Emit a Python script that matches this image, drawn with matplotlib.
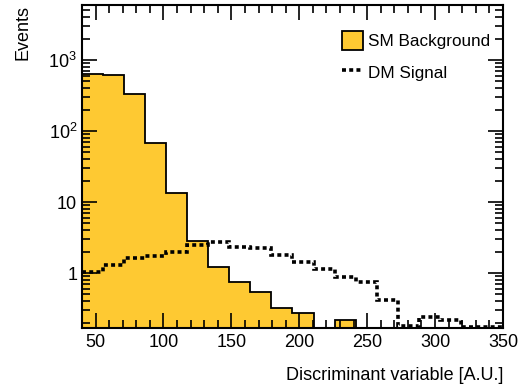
import numpy as np
import matplotlib
matplotlib.use("Agg")
from matplotlib import pyplot as plt
from matplotlib.patches import Patch
from matplotlib.lines import Line2D
from matplotlib.ticker import FixedLocator, MultipleLocator, NullFormatter

plt.rcParams['font.family'] = ['Liberation Sans', 'DejaVu Sans']

# 20 bins from 40 to 350
edges = np.linspace(40, 350, 21)
background = [628, 608, 336, 68, 13.4, 2.86, 1.2, 0.75, 0.546, 0.318,
              0.271, 0, 0.222, 0, 0, 0, 0, 0, 0, 0]
signal = [1.03, 1.31, 1.63, 1.75, 1.97, 2.5, 2.7, 2.3, 2.22, 1.77,
          1.41, 1.14, 0.89, 0.76, 0.42, 0.18, 0.243, 0.216, 0.176, 0.172]

fill_col = "#fec932"

fig = plt.figure(figsize=(5.19, 3.86), dpi=100)
ax = fig.add_axes([0.158, 0.150, 0.811, 0.837])

ax.stairs(background, edges, baseline=1e-5, fill=True, facecolor=fill_col,
          edgecolor="none")
ax.stairs(background, edges, baseline=1e-5, color="black", lw=1.3)
ax.stairs(signal, edges, baseline=None, color="black", lw=2.6,
          linestyle=(0, (1.1, 0.9)))

ax.set_yscale("log")
ax.set_xlim(40, 350)
ax.set_ylim(0.168, 5950)

# ROOT style ticks
ax.xaxis.set_major_locator(MultipleLocator(50))
ax.xaxis.set_minor_locator(MultipleLocator(10))
ax.yaxis.set_major_locator(FixedLocator([1, 10, 100, 1000]))
ax.yaxis.set_major_formatter(plt.FuncFormatter(
    lambda v, p: {1: "1", 10: "10", 100: "$\\mathregular{10^2}$",
                  1000: "$\\mathregular{10^3}$"}.get(int(round(v)), "")))
ax.yaxis.set_minor_formatter(NullFormatter())
ax.tick_params(which="both", direction="in", top=True, right=True,
               labelsize=13, width=1.2)
ax.tick_params(which="major", length=11)
ax.tick_params(which="minor", length=5.5)
ax.tick_params(axis="x", pad=4)
for s in ax.spines.values():
    s.set_linewidth(1.5)

ax.set_xlabel("Discriminant variable [A.U.]", fontsize=13, loc="right",
              labelpad=12)
ax.set_ylabel("Events", fontsize=13, loc="top", labelpad=12)

handles = [Patch(facecolor=fill_col, edgecolor="black", lw=1.3),
           Line2D([], [], color="black", lw=2.6, linestyle=(0, (1.1, 0.9)))]
ax.legend(handles, ["SM Background", "DM Signal"], loc="upper right",
          frameon=False, fontsize=12.3, handlelength=1.2, handleheight=1.3,
          handletextpad=0.3, labelspacing=0.75, borderaxespad=0.0,
          bbox_to_anchor=(0.985, 0.94))

fig.savefig("out.png", dpi=100)
